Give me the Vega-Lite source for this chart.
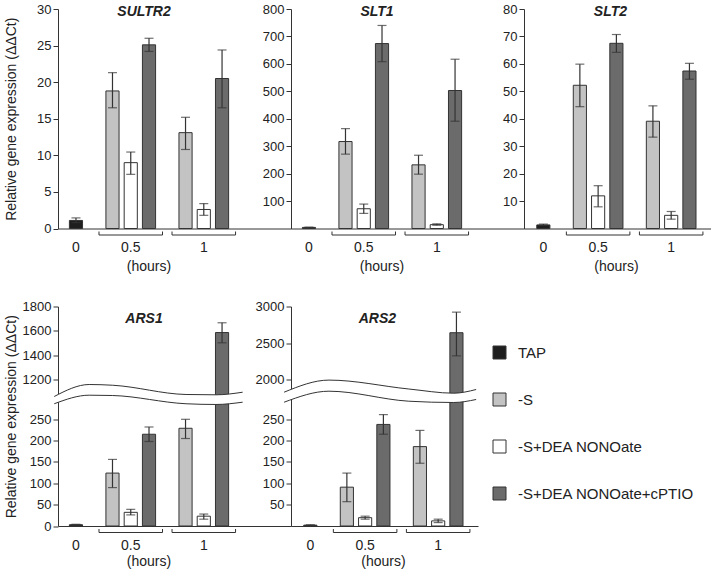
{
  "$schema": "https://vega.github.io/schema/vega-lite/v6.json",
  "background": "white",
  "padding": {"left": 4, "top": 3, "right": 0, "bottom": 0},
  "config": {
    "font": "Liberation Sans",
    "view": {"stroke": null},
    "axis": {"grid": false, "domainColor": "#333", "tickColor": "#333", "labelColor": "#222", "labelFontSize": 13, "titleColor": "#222", "titleFontSize": 14, "titleFontWeight": "normal"},
    "axisY": {"tickSize": 5, "labelPadding": 2, "labelOverlap": false},
    "axisX": {"ticks": false, "labelAngle": 0, "labelPadding": 12, "labelFontSize": 14}
  },
  "datasets": {
    "expr": [
      {"gene": "SULTR2", "slot": "0 TAP", "cond": "TAP", "mean": 1.1, "lo": 0.8, "hi": 1.45},
      {"gene": "SULTR2", "slot": "0.5 -S", "cond": "-S", "mean": 18.8, "lo": 16.5, "hi": 21.3},
      {"gene": "SULTR2", "slot": "0.5 DEA", "cond": "-S+DEA NONOate", "mean": 9.0, "lo": 7.4, "hi": 10.45},
      {"gene": "SULTR2", "slot": "0.5 cPTIO", "cond": "-S+DEA NONOate+cPTIO", "mean": 25.1, "lo": 24.2, "hi": 26.0},
      {"gene": "SULTR2", "slot": "1 -S", "cond": "-S", "mean": 13.1, "lo": 10.8, "hi": 15.2},
      {"gene": "SULTR2", "slot": "1 DEA", "cond": "-S+DEA NONOate", "mean": 2.6, "lo": 1.8, "hi": 3.4},
      {"gene": "SULTR2", "slot": "1 cPTIO", "cond": "-S+DEA NONOate+cPTIO", "mean": 20.5, "lo": 16.5, "hi": 24.4},
      {"gene": "SLT1", "slot": "0 TAP", "cond": "TAP", "mean": 4, "lo": 3, "hi": 5},
      {"gene": "SLT1", "slot": "0.5 -S", "cond": "-S", "mean": 317, "lo": 271, "hi": 364},
      {"gene": "SLT1", "slot": "0.5 DEA", "cond": "-S+DEA NONOate", "mean": 72, "lo": 55, "hi": 89},
      {"gene": "SLT1", "slot": "0.5 cPTIO", "cond": "-S+DEA NONOate+cPTIO", "mean": 674, "lo": 608, "hi": 740},
      {"gene": "SLT1", "slot": "1 -S", "cond": "-S", "mean": 232, "lo": 198, "hi": 267},
      {"gene": "SLT1", "slot": "1 DEA", "cond": "-S+DEA NONOate", "mean": 14, "lo": 12, "hi": 17},
      {"gene": "SLT1", "slot": "1 cPTIO", "cond": "-S+DEA NONOate+cPTIO", "mean": 503, "lo": 391, "hi": 617},
      {"gene": "SLT2", "slot": "0 TAP", "cond": "TAP", "mean": 1.3, "lo": 1.1, "hi": 1.6},
      {"gene": "SLT2", "slot": "0.5 -S", "cond": "-S", "mean": 52.2, "lo": 44.4, "hi": 59.9},
      {"gene": "SLT2", "slot": "0.5 DEA", "cond": "-S+DEA NONOate", "mean": 11.9, "lo": 7.9, "hi": 15.6},
      {"gene": "SLT2", "slot": "0.5 cPTIO", "cond": "-S+DEA NONOate+cPTIO", "mean": 67.5, "lo": 64.2, "hi": 70.7},
      {"gene": "SLT2", "slot": "1 -S", "cond": "-S", "mean": 39.1, "lo": 33.3, "hi": 44.7},
      {"gene": "SLT2", "slot": "1 DEA", "cond": "-S+DEA NONOate", "mean": 4.8, "lo": 3.4, "hi": 6.2},
      {"gene": "SLT2", "slot": "1 cPTIO", "cond": "-S+DEA NONOate+cPTIO", "mean": 57.4, "lo": 54.4, "hi": 60.2},
      {"gene": "ARS1", "slot": "0 TAP", "cond": "TAP", "mean": 3, "lo": 2, "hi": 4},
      {"gene": "ARS1", "slot": "0.5 -S", "cond": "-S", "mean": 124, "lo": 90, "hi": 156},
      {"gene": "ARS1", "slot": "0.5 DEA", "cond": "-S+DEA NONOate", "mean": 32, "lo": 26, "hi": 39},
      {"gene": "ARS1", "slot": "0.5 cPTIO", "cond": "-S+DEA NONOate+cPTIO", "mean": 215, "lo": 198, "hi": 232},
      {"gene": "ARS1", "slot": "1 -S", "cond": "-S", "mean": 229, "lo": 205, "hi": 250},
      {"gene": "ARS1", "slot": "1 DEA", "cond": "-S+DEA NONOate", "mean": 23, "lo": 16, "hi": 28},
      {"gene": "ARS1", "slot": "1 cPTIO", "cond": "-S+DEA NONOate+cPTIO", "mean": 1587, "lo": 1503, "hi": 1667},
      {"gene": "ARS2", "slot": "0 TAP", "cond": "TAP", "mean": 2, "lo": 1, "hi": 3},
      {"gene": "ARS2", "slot": "0.5 -S", "cond": "-S", "mean": 91, "lo": 57, "hi": 124},
      {"gene": "ARS2", "slot": "0.5 DEA", "cond": "-S+DEA NONOate", "mean": 19.5, "lo": 16, "hi": 23},
      {"gene": "ARS2", "slot": "0.5 cPTIO", "cond": "-S+DEA NONOate+cPTIO", "mean": 238, "lo": 215, "hi": 261},
      {"gene": "ARS2", "slot": "1 -S", "cond": "-S", "mean": 186, "lo": 147, "hi": 224},
      {"gene": "ARS2", "slot": "1 DEA", "cond": "-S+DEA NONOate", "mean": 12, "lo": 8, "hi": 16},
      {"gene": "ARS2", "slot": "1 cPTIO", "cond": "-S+DEA NONOate+cPTIO", "mean": 2642, "lo": 2326, "hi": 2923}
    ],
    "brackets": [
      {"from": "0.5 -S", "to": "0.5 cPTIO"},
      {"from": "1 -S", "to": "1 cPTIO"}
    ],
    "panels": [
      {"gene": "SULTR2"}, {"gene": "SLT1"}, {"gene": "SLT2"}, {"gene": "ARS1"}, {"gene": "ARS2"}
    ],
    "waves": [
      {"gene": "ARS1", "u": -0.02, "top": 726, "bot": 402},
      {"gene": "ARS1", "u": 0.166, "top": 1162, "bot": 784},
      {"gene": "ARS1", "u": 0.291, "top": 1156, "bot": 770},
      {"gene": "ARS1", "u": 0.681, "top": 815, "bot": 402},
      {"gene": "ARS1", "u": 0.84, "top": 801, "bot": 370},
      {"gene": "ARS1", "u": 0.982, "top": 917, "bot": 472},
      {"gene": "ARS2", "u": -0.037, "top": 1479, "bot": 640},
      {"gene": "ARS2", "u": 0.203, "top": 1995, "bot": 1563},
      {"gene": "ARS2", "u": 0.63, "top": 1747, "bot": 724},
      {"gene": "ARS2", "u": 0.87, "top": 1395, "bot": 615},
      {"gene": "ARS2", "u": 0.99, "top": 1705, "bot": 867}
    ]
  },
  "spacing": 26.5,
  "vconcat": [
    {
      "bounds": "flush",
      "spacing": 0,
      "hconcat": [
        {
          "width": 233, "height": 219.5,
          "layer": [
            {"data": {"name": "expr"}, "transform": [{"filter": "datum.gene == 'SULTR2'"}],
             "layer": [
              {"mark": {"type": "bar", "stroke": "#333", "strokeWidth": 1},
               "encoding": {
                 "x": {"field": "slot", "type": "nominal", "title": null,
                       "scale": {"domain": ["0 TAP", "gap1", "0.5 -S", "0.5 DEA", "0.5 cPTIO", "gap2", "1 -S", "1 DEA", "1 cPTIO", "pad1", "pad2", "pad3"], "paddingInner": 0.28, "paddingOuter": 0.52, "align": 0.6},
                       "axis": {"labelExpr": "datum.value == '0 TAP' ? '0' : datum.value == '0.5 DEA' ? '0.5' : datum.value == '1 DEA' ? '1' : ''"}},
                 "y": {"field": "mean", "type": "quantitative", "scale": {"domain": [0, 30], "nice": false},
                       "axis": {"values": [0, 5, 10, 15, 20, 25, 30], "tickCount": 12, "format": "d", "labelOverlap": false, "title": "Relative gene expression (ΔΔCt)", "titlePadding": 18}},
                 "color": {"field": "cond", "type": "nominal",
                           "scale": {"domain": ["TAP", "-S", "-S+DEA NONOate", "-S+DEA NONOate+cPTIO"], "range": ["#1e1e1e", "#c3c3c3", "#ffffff", "#6b6b6b"]},
                           "legend": {"title": null, "orient": "none", "legendX": 434, "legendY": 336, "symbolType": "square", "symbolSize": 169, "symbolStrokeColor": "#333", "symbolStrokeWidth": 1, "labelFontSize": 15, "labelColor": "#222", "labelOffset": 11, "labelLimit": 300, "rowPadding": 30, "padding": 0}}
               }},
              {"mark": {"type": "rule", "color": "#333", "strokeWidth": 1.2},
               "encoding": {"x": {"field": "slot", "type": "nominal"}, "y": {"field": "lo", "type": "quantitative"}, "y2": {"field": "hi"}}},
              {"mark": {"type": "tick", "color": "#333", "size": 9, "thickness": 1.2},
               "encoding": {"x": {"field": "slot", "type": "nominal"}, "y": {"field": "lo", "type": "quantitative"}}},
              {"mark": {"type": "tick", "color": "#333", "size": 9, "thickness": 1.2},
               "encoding": {"x": {"field": "slot", "type": "nominal"}, "y": {"field": "hi", "type": "quantitative"}}}
             ]},
            {"data": {"name": "brackets"},
             "layer": [
              {"mark": {"type": "rule", "color": "#333", "strokeWidth": 1, "xOffset": -13.5, "x2Offset": 13.5, "yOffset": 6.5},
               "encoding": {"x": {"field": "from", "type": "nominal"}, "x2": {"field": "to"}, "y": {"datum": 0, "type": "quantitative"}}},
              {"mark": {"type": "rule", "color": "#333", "strokeWidth": 1, "xOffset": -13.5, "yOffset": 3, "y2Offset": 6.5},
               "encoding": {"x": {"field": "from", "type": "nominal"}, "y": {"datum": 0, "type": "quantitative"}, "y2": {"datum": 0}}},
              {"mark": {"type": "rule", "color": "#333", "strokeWidth": 1, "xOffset": 13.5, "yOffset": 3, "y2Offset": 6.5},
               "encoding": {"x": {"field": "to", "type": "nominal"}, "y": {"datum": 0, "type": "quantitative"}, "y2": {"datum": 0}}}
             ]},
            {"data": {"name": "panels"}, "transform": [{"filter": "datum.gene == 'SULTR2'"}],
             "layer": [
              {"mark": {"type": "text", "fontSize": 14, "fontWeight": "bold", "fontStyle": "italic", "color": "#222", "dx": -5, "dy": 3, "baseline": "middle"},
               "encoding": {"x": {"datum": "0.5 cPTIO", "type": "nominal"}, "y": {"datum": 30, "type": "quantitative"}, "text": {"field": "gene"}}},
              {"mark": {"type": "text", "text": "(hours)", "fontSize": 14, "color": "#222", "dy": 38, "baseline": "middle"},
               "encoding": {"x": {"datum": "0.5 cPTIO", "type": "nominal"}, "y": {"datum": 0, "type": "quantitative"}}}
             ]}
          ]
        },
        {
          "width": 233, "height": 219.5,
          "layer": [
            {"data": {"name": "expr"}, "transform": [{"filter": "datum.gene == 'SLT1'"}],
             "layer": [
              {"mark": {"type": "bar", "stroke": "#333", "strokeWidth": 1},
               "encoding": {
                 "x": {"field": "slot", "type": "nominal", "title": null,
                       "scale": {"domain": ["0 TAP", "gap1", "0.5 -S", "0.5 DEA", "0.5 cPTIO", "gap2", "1 -S", "1 DEA", "1 cPTIO", "pad1", "pad2", "pad3"], "paddingInner": 0.28, "paddingOuter": 0.52, "align": 0.6},
                       "axis": {"labelExpr": "datum.value == '0 TAP' ? '0' : datum.value == '0.5 DEA' ? '0.5' : datum.value == '1 DEA' ? '1' : ''"}},
                 "y": {"field": "mean", "type": "quantitative", "scale": {"domain": [0, 800], "nice": false},
                       "axis": {"values": [100, 200, 300, 400, 500, 600, 700, 800], "tickCount": 12, "format": "d", "labelOverlap": false, "title": null}},
                 "color": {"field": "cond", "type": "nominal",
                           "scale": {"domain": ["TAP", "-S", "-S+DEA NONOate", "-S+DEA NONOate+cPTIO"], "range": ["#1e1e1e", "#c3c3c3", "#ffffff", "#6b6b6b"]}}
               }},
              {"mark": {"type": "rule", "color": "#333", "strokeWidth": 1.2},
               "encoding": {"x": {"field": "slot", "type": "nominal"}, "y": {"field": "lo", "type": "quantitative"}, "y2": {"field": "hi"}}},
              {"mark": {"type": "tick", "color": "#333", "size": 9, "thickness": 1.2},
               "encoding": {"x": {"field": "slot", "type": "nominal"}, "y": {"field": "lo", "type": "quantitative"}}},
              {"mark": {"type": "tick", "color": "#333", "size": 9, "thickness": 1.2},
               "encoding": {"x": {"field": "slot", "type": "nominal"}, "y": {"field": "hi", "type": "quantitative"}}}
             ]},
            {"data": {"name": "brackets"},
             "layer": [
              {"mark": {"type": "rule", "color": "#333", "strokeWidth": 1, "xOffset": -13.5, "x2Offset": 13.5, "yOffset": 6.5},
               "encoding": {"x": {"field": "from", "type": "nominal"}, "x2": {"field": "to"}, "y": {"datum": 0, "type": "quantitative"}}},
              {"mark": {"type": "rule", "color": "#333", "strokeWidth": 1, "xOffset": -13.5, "yOffset": 3, "y2Offset": 6.5},
               "encoding": {"x": {"field": "from", "type": "nominal"}, "y": {"datum": 0, "type": "quantitative"}, "y2": {"datum": 0}}},
              {"mark": {"type": "rule", "color": "#333", "strokeWidth": 1, "xOffset": 13.5, "yOffset": 3, "y2Offset": 6.5},
               "encoding": {"x": {"field": "to", "type": "nominal"}, "y": {"datum": 0, "type": "quantitative"}, "y2": {"datum": 0}}}
             ]},
            {"data": {"name": "panels"}, "transform": [{"filter": "datum.gene == 'SLT1'"}],
             "layer": [
              {"mark": {"type": "text", "fontSize": 14, "fontWeight": "bold", "fontStyle": "italic", "color": "#222", "dx": -5, "dy": 3, "baseline": "middle"},
               "encoding": {"x": {"datum": "0.5 cPTIO", "type": "nominal"}, "y": {"datum": 800, "type": "quantitative"}, "text": {"field": "gene"}}},
              {"mark": {"type": "text", "text": "(hours)", "fontSize": 14, "color": "#222", "dy": 38, "baseline": "middle"},
               "encoding": {"x": {"datum": "0.5 cPTIO", "type": "nominal"}, "y": {"datum": 0, "type": "quantitative"}}}
             ]}
          ]
        },
        {
          "width": 187, "height": 219.5,
          "layer": [
            {"data": {"name": "expr"}, "transform": [{"filter": "datum.gene == 'SLT2'"}],
             "layer": [
              {"mark": {"type": "bar", "stroke": "#333", "strokeWidth": 1},
               "encoding": {
                 "x": {"field": "slot", "type": "nominal", "title": null,
                       "scale": {"domain": ["0 TAP", "gap1", "0.5 -S", "0.5 DEA", "0.5 cPTIO", "gap2", "1 -S", "1 DEA", "1 cPTIO"], "paddingInner": 0.28, "paddingOuter": 0.76, "align": 0.46},
                       "axis": {"labelExpr": "datum.value == '0 TAP' ? '0' : datum.value == '0.5 DEA' ? '0.5' : datum.value == '1 DEA' ? '1' : ''"}},
                 "y": {"field": "mean", "type": "quantitative", "scale": {"domain": [0, 80], "nice": false},
                       "axis": {"values": [10, 20, 30, 40, 50, 60, 70, 80], "tickCount": 12, "format": "d", "labelOverlap": false, "title": null}},
                 "color": {"field": "cond", "type": "nominal",
                           "scale": {"domain": ["TAP", "-S", "-S+DEA NONOate", "-S+DEA NONOate+cPTIO"], "range": ["#1e1e1e", "#c3c3c3", "#ffffff", "#6b6b6b"]}}
               }},
              {"mark": {"type": "rule", "color": "#333", "strokeWidth": 1.2},
               "encoding": {"x": {"field": "slot", "type": "nominal"}, "y": {"field": "lo", "type": "quantitative"}, "y2": {"field": "hi"}}},
              {"mark": {"type": "tick", "color": "#333", "size": 9, "thickness": 1.2},
               "encoding": {"x": {"field": "slot", "type": "nominal"}, "y": {"field": "lo", "type": "quantitative"}}},
              {"mark": {"type": "tick", "color": "#333", "size": 9, "thickness": 1.2},
               "encoding": {"x": {"field": "slot", "type": "nominal"}, "y": {"field": "hi", "type": "quantitative"}}}
             ]},
            {"data": {"name": "brackets"},
             "layer": [
              {"mark": {"type": "rule", "color": "#333", "strokeWidth": 1, "xOffset": -13.5, "x2Offset": 13.5, "yOffset": 6.5},
               "encoding": {"x": {"field": "from", "type": "nominal"}, "x2": {"field": "to"}, "y": {"datum": 0, "type": "quantitative"}}},
              {"mark": {"type": "rule", "color": "#333", "strokeWidth": 1, "xOffset": -13.5, "yOffset": 3, "y2Offset": 6.5},
               "encoding": {"x": {"field": "from", "type": "nominal"}, "y": {"datum": 0, "type": "quantitative"}, "y2": {"datum": 0}}},
              {"mark": {"type": "rule", "color": "#333", "strokeWidth": 1, "xOffset": 13.5, "yOffset": 3, "y2Offset": 6.5},
               "encoding": {"x": {"field": "to", "type": "nominal"}, "y": {"datum": 0, "type": "quantitative"}, "y2": {"datum": 0}}}
             ]},
            {"data": {"name": "panels"}, "transform": [{"filter": "datum.gene == 'SLT2'"}],
             "layer": [
              {"mark": {"type": "text", "fontSize": 14, "fontWeight": "bold", "fontStyle": "italic", "color": "#222", "dx": -6, "dy": 3, "baseline": "middle"},
               "encoding": {"x": {"datum": "0.5 cPTIO", "type": "nominal"}, "y": {"datum": 80, "type": "quantitative"}, "text": {"field": "gene"}}},
              {"mark": {"type": "text", "text": "(hours)", "fontSize": 14, "color": "#222", "dy": 38, "baseline": "middle"},
               "encoding": {"x": {"datum": "0.5 cPTIO", "type": "nominal"}, "y": {"datum": 0, "type": "quantitative"}}}
             ]}
          ]
        }
      ]
    },
    {
      "bounds": "flush",
      "spacing": 0,
      "hconcat": [
        {
          "width": 233, "height": 219.5,
          "resolve": {"scale": {"x": "independent"}, "axis": {"x": "independent"}},
          "layer": [
            {"layer": [
              {"data": {"name": "expr"}, "transform": [{"filter": "datum.gene == 'ARS1'"}],
               "layer": [
                {"mark": {"type": "bar", "stroke": "#333", "strokeWidth": 1},
                 "encoding": {
                   "x": {"field": "slot", "type": "nominal", "title": null,
                         "scale": {"domain": ["0 TAP", "gap1", "0.5 -S", "0.5 DEA", "0.5 cPTIO", "gap2", "1 -S", "1 DEA", "1 cPTIO", "pad1", "pad2", "pad3"], "paddingInner": 0.28, "paddingOuter": 0.52, "align": 0.6},
                         "axis": {"labelExpr": "datum.value == '0 TAP' ? '0' : datum.value == '0.5 DEA' ? '0.5' : datum.value == '1 DEA' ? '1' : ''"}},
                   "y": {"field": "mean", "type": "quantitative",
                         "scale": {"domain": [0, 280, 1140, 1800], "range": [219.5, 100, 80.7, 0], "nice": false, "zero": false},
                         "axis": {"values": [0, 50, 100, 150, 200, 250, 1200, 1400, 1600, 1800], "tickCount": 12, "format": "d", "labelOverlap": false, "title": "Relative gene expression (ΔΔCt)", "titlePadding": 4}},
                   "color": {"field": "cond", "type": "nominal",
                             "scale": {"domain": ["TAP", "-S", "-S+DEA NONOate", "-S+DEA NONOate+cPTIO"], "range": ["#1e1e1e", "#c3c3c3", "#ffffff", "#6b6b6b"]}}
                 }},
                {"mark": {"type": "rule", "color": "#333", "strokeWidth": 1.2},
                 "encoding": {"x": {"field": "slot", "type": "nominal"}, "y": {"field": "lo", "type": "quantitative"}, "y2": {"field": "hi"}}},
                {"mark": {"type": "tick", "color": "#333", "size": 9, "thickness": 1.2},
                 "encoding": {"x": {"field": "slot", "type": "nominal"}, "y": {"field": "lo", "type": "quantitative"}}},
                {"mark": {"type": "tick", "color": "#333", "size": 9, "thickness": 1.2},
                 "encoding": {"x": {"field": "slot", "type": "nominal"}, "y": {"field": "hi", "type": "quantitative"}}}
               ]},
              {"data": {"name": "brackets"},
               "layer": [
                {"mark": {"type": "rule", "color": "#333", "strokeWidth": 1, "xOffset": -13.5, "x2Offset": 13.5, "yOffset": 6.5},
                 "encoding": {"x": {"field": "from", "type": "nominal"}, "x2": {"field": "to"}, "y": {"datum": 0, "type": "quantitative"}}},
                {"mark": {"type": "rule", "color": "#333", "strokeWidth": 1, "xOffset": -13.5, "yOffset": 3, "y2Offset": 6.5},
                 "encoding": {"x": {"field": "from", "type": "nominal"}, "y": {"datum": 0, "type": "quantitative"}, "y2": {"datum": 0}}},
                {"mark": {"type": "rule", "color": "#333", "strokeWidth": 1, "xOffset": 13.5, "yOffset": 3, "y2Offset": 6.5},
                 "encoding": {"x": {"field": "to", "type": "nominal"}, "y": {"datum": 0, "type": "quantitative"}, "y2": {"datum": 0}}}
               ]},
              {"data": {"name": "panels"}, "transform": [{"filter": "datum.gene == 'ARS1'"}],
               "layer": [
                {"mark": {"type": "text", "fontSize": 14, "fontWeight": "bold", "fontStyle": "italic", "color": "#222", "dx": -5, "dy": 12, "baseline": "middle"},
                 "encoding": {"x": {"datum": "0.5 cPTIO", "type": "nominal"}, "y": {"datum": 1800, "type": "quantitative"}, "text": {"field": "gene"}}},
                {"mark": {"type": "text", "text": "(hours)", "fontSize": 14, "color": "#222", "dy": 36, "baseline": "middle"},
                 "encoding": {"x": {"datum": "0.5 cPTIO", "type": "nominal"}, "y": {"datum": 0, "type": "quantitative"}}}
               ]}
            ]},
            {"data": {"name": "waves"}, "transform": [{"filter": "datum.gene == 'ARS1'"}],
             "layer": [
              {"mark": {"type": "area", "fill": "white", "interpolate": "monotone"},
               "encoding": {"x": {"field": "u", "type": "quantitative", "scale": {"domain": [0, 1.239], "nice": false, "zero": false}, "axis": null},
                            "y": {"field": "top", "type": "quantitative"}, "y2": {"field": "bot"}}},
              {"mark": {"type": "line", "color": "#333", "strokeWidth": 1, "interpolate": "monotone"},
               "encoding": {"x": {"field": "u", "type": "quantitative"}, "y": {"field": "top", "type": "quantitative"}}},
              {"mark": {"type": "line", "color": "#333", "strokeWidth": 1, "interpolate": "monotone"},
               "encoding": {"x": {"field": "u", "type": "quantitative"}, "y": {"field": "bot", "type": "quantitative"}}}
             ]}
          ]
        },
        {
          "width": 187, "height": 219.5,
          "resolve": {"scale": {"x": "independent"}, "axis": {"x": "independent"}},
          "layer": [
            {"layer": [
              {"data": {"name": "expr"}, "transform": [{"filter": "datum.gene == 'ARS2'"}],
               "layer": [
                {"mark": {"type": "bar", "stroke": "#333", "strokeWidth": 1},
                 "encoding": {
                   "x": {"field": "slot", "type": "nominal", "title": null,
                         "scale": {"domain": ["0 TAP", "gap1", "0.5 -S", "0.5 DEA", "0.5 cPTIO", "gap2", "1 -S", "1 DEA", "1 cPTIO"], "paddingInner": 0.28, "paddingOuter": 0.76, "align": 0.46},
                         "axis": {"labelExpr": "datum.value == '0 TAP' ? '0' : datum.value == '0.5 DEA' ? '0.5' : datum.value == '1 DEA' ? '1' : ''"}},
                   "y": {"field": "mean", "type": "quantitative",
                         "scale": {"domain": [0, 280, 1898, 3000], "range": [219.5, 100, 80.7, 0], "nice": false, "zero": false},
                         "axis": {"values": [50, 100, 150, 200, 250, 2000, 2500, 3000], "tickCount": 12, "format": "d", "labelOverlap": false, "title": null}},
                   "color": {"field": "cond", "type": "nominal",
                             "scale": {"domain": ["TAP", "-S", "-S+DEA NONOate", "-S+DEA NONOate+cPTIO"], "range": ["#1e1e1e", "#c3c3c3", "#ffffff", "#6b6b6b"]}}
                 }},
                {"mark": {"type": "rule", "color": "#333", "strokeWidth": 1.2},
                 "encoding": {"x": {"field": "slot", "type": "nominal"}, "y": {"field": "lo", "type": "quantitative"}, "y2": {"field": "hi"}}},
                {"mark": {"type": "tick", "color": "#333", "size": 9, "thickness": 1.2},
                 "encoding": {"x": {"field": "slot", "type": "nominal"}, "y": {"field": "lo", "type": "quantitative"}}},
                {"mark": {"type": "tick", "color": "#333", "size": 9, "thickness": 1.2},
                 "encoding": {"x": {"field": "slot", "type": "nominal"}, "y": {"field": "hi", "type": "quantitative"}}}
               ]},
              {"data": {"name": "brackets"},
               "layer": [
                {"mark": {"type": "rule", "color": "#333", "strokeWidth": 1, "xOffset": -13.5, "x2Offset": 13.5, "yOffset": 6.5},
                 "encoding": {"x": {"field": "from", "type": "nominal"}, "x2": {"field": "to"}, "y": {"datum": 0, "type": "quantitative"}}},
                {"mark": {"type": "rule", "color": "#333", "strokeWidth": 1, "xOffset": -13.5, "yOffset": 3, "y2Offset": 6.5},
                 "encoding": {"x": {"field": "from", "type": "nominal"}, "y": {"datum": 0, "type": "quantitative"}, "y2": {"datum": 0}}},
                {"mark": {"type": "rule", "color": "#333", "strokeWidth": 1, "xOffset": 13.5, "yOffset": 3, "y2Offset": 6.5},
                 "encoding": {"x": {"field": "to", "type": "nominal"}, "y": {"datum": 0, "type": "quantitative"}, "y2": {"datum": 0}}}
               ]},
              {"data": {"name": "panels"}, "transform": [{"filter": "datum.gene == 'ARS2'"}],
               "layer": [
                {"mark": {"type": "text", "fontSize": 14, "fontWeight": "bold", "fontStyle": "italic", "color": "#222", "dx": -6, "dy": 12, "baseline": "middle"},
                 "encoding": {"x": {"datum": "0.5 cPTIO", "type": "nominal"}, "y": {"datum": 3000, "type": "quantitative"}, "text": {"field": "gene"}}},
                {"mark": {"type": "text", "text": "(hours)", "fontSize": 14, "color": "#222", "dy": 36, "baseline": "middle"},
                 "encoding": {"x": {"datum": "0.5 cPTIO", "type": "nominal"}, "y": {"datum": 0, "type": "quantitative"}}}
               ]}
            ]},
            {"data": {"name": "waves"}, "transform": [{"filter": "datum.gene == 'ARS2'"}],
             "layer": [
              {"mark": {"type": "area", "fill": "white", "interpolate": "monotone"},
               "encoding": {"x": {"field": "u", "type": "quantitative", "scale": {"domain": [0, 1], "nice": false, "zero": false}, "axis": null},
                            "y": {"field": "top", "type": "quantitative"}, "y2": {"field": "bot"}}},
              {"mark": {"type": "line", "color": "#333", "strokeWidth": 1, "interpolate": "monotone"},
               "encoding": {"x": {"field": "u", "type": "quantitative"}, "y": {"field": "top", "type": "quantitative"}}},
              {"mark": {"type": "line", "color": "#333", "strokeWidth": 1, "interpolate": "monotone"},
               "encoding": {"x": {"field": "u", "type": "quantitative"}, "y": {"field": "bot", "type": "quantitative"}}}
             ]}
          ]
        }
      ]
    }
  ]
}
